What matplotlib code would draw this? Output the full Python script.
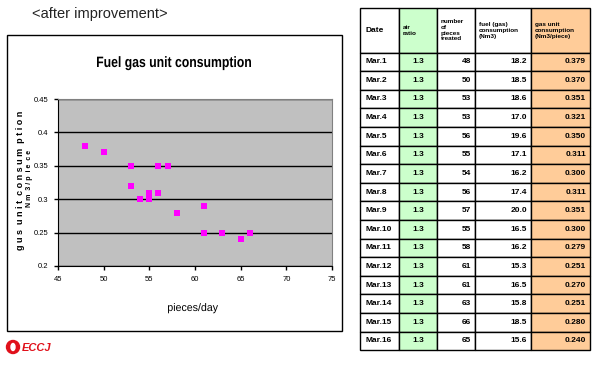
import matplotlib
matplotlib.use('Agg')
import matplotlib.pyplot as plt
from matplotlib.patches import Rectangle, Circle, Ellipse, PathPatch
from matplotlib.textpath import TextPath
from matplotlib.font_manager import FontProperties
from matplotlib.transforms import Affine2D

# --- data -------------------------------------------------------------
# scatter points as drawn in the chart
plot_x = [48, 50, 53, 53, 54, 55, 55, 56, 56, 57, 58, 61, 61, 63, 65, 66]
plot_y = [0.38, 0.37, 0.35, 0.32, 0.30, 0.31, 0.30, 0.31, 0.35, 0.35, 0.28, 0.29, 0.25, 0.25, 0.24, 0.25]

xticks = [45, 50, 55, 60, 65, 70, 75]
yticks = [0.2, 0.25, 0.3, 0.35, 0.4, 0.45]
ytick_labels = ['0.2', '0.25', '0.3', '0.35', '0.4', '0.45']

# table
headers = ['Date', 'air\nratio', 'number\nof\npieces\ntreated', 'fuel (gas)\nconsumption\n(Nm3)',
           'gas unit\nconsumption\n(Nm3/piece)']
dates = ['Mar.1', 'Mar.2', 'Mar.3', 'Mar.4', 'Mar.5', 'Mar.6', 'Mar.7', 'Mar.8',
         'Mar.9', 'Mar.10', 'Mar.11', 'Mar.12', 'Mar.13', 'Mar.14', 'Mar.15', 'Mar.16']
air_ratio = [1.3, 1.3, 1.3, 1.3, 1.3, 1.3, 1.3, 1.3, 1.3, 1.3, 1.3, 1.3, 1.3, 1.3, 1.3, 1.3]
pieces = [48, 50, 53, 53, 56, 55, 54, 56, 57, 55, 58, 61, 61, 63, 66, 65]
fuel = [18.2, 18.5, 18.6, 17.0, 19.6, 17.1, 16.2, 17.4, 20.0, 16.5, 16.2, 15.3, 16.5, 15.8, 18.5, 15.6]
unit_cons = [0.379, 0.370, 0.351, 0.321, 0.350, 0.311, 0.300, 0.311, 0.351, 0.300,
             0.279, 0.251, 0.270, 0.251, 0.280, 0.240]

SANS = ['Liberation Sans', 'DejaVu Sans']

W, H = 600, 365
fig = plt.figure(figsize=(W / 100, H / 100), dpi=100)

# background layer in pixel coordinates
bg = fig.add_axes([0, 0, 1, 1])
bg.set_xlim(0, W)
bg.set_ylim(H, 0)
bg.axis('off')


def narrow_text(s, x0, x1, baseline, height, weight='bold'):
    # squeeze a text path into a given width (no condensed font installed)
    tp = TextPath((0, 0), s, size=10, prop=FontProperties(family='Liberation Sans', weight=weight))
    ext = tp.get_extents()
    sx = (x1 - x0) / ext.width
    sy = height / 10
    tr = Affine2D().translate(-ext.x0, 0).scale(sx, -sy).translate(x0, baseline)
    bg.add_patch(PathPatch(tp, transform=tr + bg.transData, color='black', lw=0))


bg.text(32, 14, '<after improvement>', fontsize=10.5, family=SANS, color='#222222', va='center')

# chart frame
bg.add_patch(Rectangle((7, 35), 335, 296, facecolor='white', edgecolor='black', lw=1))
narrow_text('Fuel gas unit consumption', 97, 251, 67, 15)
bg.text(21, 180, 'g u s  u n i t  c o n s u m  p t i o n', rotation=90, fontsize=6.5,
        weight='bold', family=SANS, ha='center', va='center')
bg.text(29.5, 178, 'N m  3 / p  i e  c e', rotation=90, fontsize=5, weight='bold',
        family=SANS, ha='center', va='center')
narrow_text('pieces/day', 168, 218, 311, 11, weight='normal')

# logo
bg.add_patch(Circle((13, 347), 6.5, color='#E0101A'))
bg.add_patch(Ellipse((13, 347), 4, 7, color='white'))
bg.text(22, 348, 'ECCJ', fontsize=8, weight='bold', style='italic', color='#E0101A',
        family=SANS, va='center')

# --- scatter chart ----------------------------------------------------
ax = fig.add_axes([58 / W, 1 - 266 / H, 274 / W, 167 / H])
ax.set_facecolor('#C0C0C0')
ax.scatter(plot_x, plot_y, marker='s', s=20, color='#FF00FF', zorder=3, linewidths=0)
ax.set_xlim(45, 75)
ax.set_ylim(0.2, 0.45)
ax.set_xticks(xticks)
ax.set_xticklabels([str(v) for v in xticks], family=SANS, fontsize=5.5)
ax.set_yticks(yticks)
ax.set_yticklabels(ytick_labels, family=SANS, fontsize=5.5)
ax.yaxis.grid(True, color='black', lw=1)
ax.set_axisbelow(True)
ax.tick_params(direction='out', length=3, width=1, pad=4)
for side in ['left', 'bottom']:
    ax.spines[side].set_color('black')
for side in ['top', 'right']:
    ax.spines[side].set_color('#808080')

# --- table ------------------------------------------------------------
col_edges = [360, 399, 437, 475, 531, 590]
top, head_bottom, row_h = 8, 52.5, 18.6
col_fill = ['white', '#CCFFCC', 'white', 'white', '#FFCC99']

for j in range(5):
    x0, x1 = col_edges[j], col_edges[j + 1]
    bg.add_patch(Rectangle((x0, top), x1 - x0, head_bottom - top, facecolor=col_fill[j],
                           edgecolor='black', lw=1))
    hx = x0 + 4 if j != 0 else x0 + 6
    bg.text(hx, (top + head_bottom) / 2, headers[j], fontsize=4.6 if j else 6,
            weight='bold', family=SANS, va='center', ha='left', linespacing=1.2)

rows = list(zip(dates, air_ratio, pieces, fuel, unit_cons))
for i, (d, a, p, f, u) in enumerate(rows):
    y0 = head_bottom + i * row_h
    yc = y0 + row_h / 2
    for j in range(5):
        x0, x1 = col_edges[j], col_edges[j + 1]
        bg.add_patch(Rectangle((x0, y0), x1 - x0, row_h, facecolor=col_fill[j],
                               edgecolor='black', lw=1))
    kw = dict(fontsize=6, weight='bold', family=SANS, va='center')
    bg.text(col_edges[0] + 5, yc, d, ha='left', **kw)
    bg.text(col_edges[1] + 19, yc, f'{a:.1f}', ha='center', **kw)
    bg.text(col_edges[3] - 4, yc, f'{p}', ha='right', **kw)
    bg.text(col_edges[4] - 4, yc, f'{f:.1f}', ha='right', **kw)
    bg.text(col_edges[5] - 4, yc, f'{u:.3f}', ha='right', **kw)

fig.savefig('out.png', dpi=100)
